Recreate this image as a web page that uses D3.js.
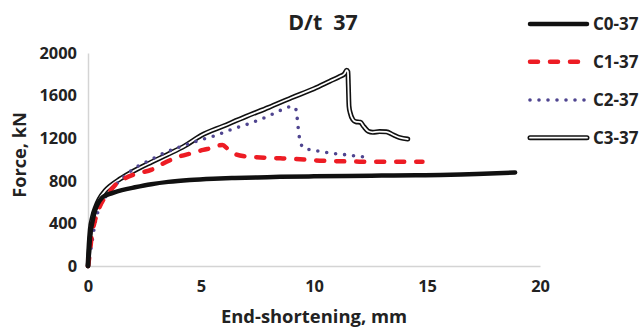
<!DOCTYPE html>
<html><head><meta charset="utf-8">
<script src="https://cdn.jsdelivr.net/npm/d3@7"></script>
<style>
html,body{margin:0;padding:0;background:#fff;}
text{font-family:"Open Sans",sans-serif;font-weight:700;fill:#222;}
</style></head>
<body><svg id="chart" width="641" height="327"></svg>
<script>
// ---- data ----
const seriesNames = ["C0-37","C1-37","C2-37","C3-37"];
const xTicks = [0,5,10,15,20];
const yTicks = [0,400,800,1200,1600,2000];
const titleText = "D/t  37";
const xTitle = "End-shortening, mm";
const yTitle = "Force, kN";

const c0X = [0,0.05,0.1,0.2,0.31,0.45,0.6,0.8,1.05,1.5,2.08,2.8,3.55,4.5,5.55,6.5,7.5,8.5,10,11.5,13,14.5,15.6,16.5,17.5,18.9];
const c0Y = [0,150,290,420,520,590,636,665,683,712,739,768,790,808,820,827,832,837,842,846,849,852,855,860,867,878];

const c1X = [0,0.08,0.16,0.3,0.46,0.7,0.9,1.2,1.64,2.2,2.82,3.3,4.0,4.6,5.1,5.55,5.8,5.95,6.2,6.58,7.0,7.46,8.5,9.38,10.4,11.07,12,13,14,14.8];
const c1Y = [0,120,275,420,526,630,683,760,823,870,905,960,1025,1060,1090,1112,1132,1136,1096,1045,1028,1021,1011,1002,988,984,980,979,978,978];

const c2X = [0,0.08,0.16,0.3,0.53,0.75,0.97,1.4,2.08,2.8,3.26,4.29,5.0,5.5,6.28,7.17,7.98,8.5,8.79,9.1,9.2,9.25,9.3,9.36,9.5,9.7,9.93,10.38,10.81,11.25,11.7,12.15];
const c2Y = [0,100,200,390,560,640,700,800,920,1000,1050,1135,1185,1215,1277,1340,1408,1460,1488,1497,1470,1400,1300,1200,1118,1098,1088,1072,1058,1048,1037,1026];

const c3X = [0,0.05,0.1,0.2,0.35,0.5,0.75,1.0,1.4,2.0,2.8,3.5,4.3,5.0,6.0,7.0,8.0,9.0,10.0,10.7,11.1,11.35,11.45,11.5,11.52,11.55,11.6,11.72,11.85,12.05,12.2,12.4,12.6,12.9,13.2,13.5,13.8,14.15];
const c3Y = [0,200,340,460,560,630,705,755,815,890,975,1045,1130,1225,1315,1405,1490,1580,1665,1735,1775,1805,1838,1825,1700,1500,1440,1375,1355,1350,1310,1265,1255,1262,1260,1232,1205,1192];

// ---- layout ----
const svg = d3.select("#chart");
const x = d3.scaleLinear().domain([0,20]).range([88,540]);
const y = d3.scaleLinear().domain([0,2000]).range([266,53]);

const xAxis = svg.append("g").attr("transform","translate(0,266)")
  .call(d3.axisBottom(x).tickValues(xTicks).tickFormat(d3.format("d")).tickSize(0).tickPadding(14));
const yAxis = svg.append("g").attr("transform","translate(88,0)")
  .call(d3.axisLeft(y).tickValues(yTicks).tickFormat(d3.format("d")).tickSize(0).tickPadding(11));
[xAxis,yAxis].forEach(a=>{
  a.select(".domain").attr("stroke","#d4d4d4").attr("stroke-width",1.5);
  a.selectAll("text").attr("font-size",16.4).attr("font-family","Open Sans").attr("font-weight","700").attr("fill","#222");
});

svg.append("text").attr("x",323).attr("y",29.5).attr("text-anchor","middle")
  .attr("font-size",21.4).style("white-space","pre").text(titleText);
svg.append("text").attr("x",314).attr("y",323).attr("text-anchor","middle")
  .attr("font-size",18.4).text(xTitle);
svg.append("text").attr("transform","translate(25.5,155) rotate(-90)").attr("text-anchor","middle")
  .attr("font-size",18.2).text(yTitle);

const line = d3.line().x(d=>x(d[0])).y(d=>y(d[1])).curve(d3.curveMonotoneX);
const zip = (a,b)=>a.map((v,i)=>[v,b[i]]);

const styles = [
  {name:seriesNames[0], data:zip(c0X,c0Y), layers:[{stroke:"#111",w:4.5,dash:null}]},
  {name:seriesNames[1], data:zip(c1X,c1Y), layers:[{stroke:"#ed1c24",w:4.5,dash:"8,12"}]},
  {name:seriesNames[2], data:zip(c2X,c2Y), layers:[{stroke:"#4f4590",w:3.6,dash:"0,9"}]},
  {name:seriesNames[3], data:zip(c3X,c3Y), layers:[{stroke:"#111",w:5,dash:null},{stroke:"#fff",w:1.8,dash:null}]}
];

const plot = svg.append("g");
[3,2,1,0].forEach(i=>{
  const s = styles[i];
  s.layers.forEach(l=>{
    plot.append("path").attr("d",line(s.data)).attr("fill","none")
      .attr("stroke",l.stroke).attr("stroke-width",l.w)
      .attr("stroke-linecap","round").attr("stroke-linejoin","round")
      .attr("stroke-dasharray",l.dash);
  });
});

// legend
const legY = [24,61.7,100,137.7];
const leg = svg.append("g");
styles.forEach((s,i)=>{
  s.layers.forEach(l=>{
    leg.append("line").attr("x1",530).attr("x2",587).attr("y1",legY[i]).attr("y2",legY[i])
      .attr("stroke",l.stroke).attr("stroke-width",l.w)
      .attr("stroke-linecap","round").attr("stroke-dasharray",l.dash);
  });
  leg.append("text").attr("x",593).attr("y",legY[i]+6.3).attr("font-size",17).text(s.name);
});
</script></body></html>
